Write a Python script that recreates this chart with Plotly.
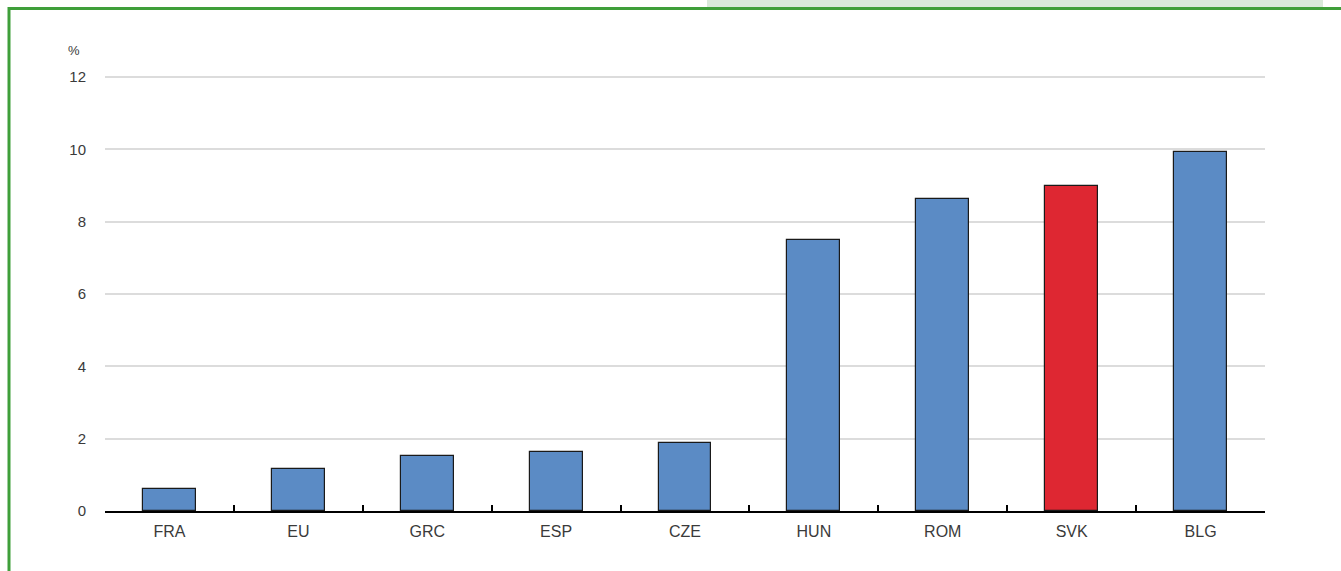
import plotly.graph_objects as go

categories = ["FRA", "EU", "GRC", "ESP", "CZE", "HUN", "ROM", "SVK", "BLG"]
values = [0.6, 1.15, 1.52, 1.62, 1.88, 7.5, 8.63, 9.0, 9.93]
highlight = "SVK"
y_ticks = [0, 2, 4, 6, 8, 10, 12]

BLUE = "#5b8bc5"
RED = "#de2732"
colors = [RED if c == highlight else BLUE for c in categories]

W, H = 1341, 571
L, R, T, B = 105, 76, 76, 60
pw, ph = W - L - R, H - T - B


def px(x):
    return (x - L) / pw


def py(y):
    return (H - B - y) / ph


fig = go.Figure(
    go.Bar(
        x=categories,
        y=values,
        marker=dict(color=colors, line=dict(color="#1a1a1a", width=1.2)),
        width=0.41,
    )
)

fig.update_layout(
    width=W,
    height=H,
    margin=dict(l=L, r=R, t=T, b=B, pad=0),
    paper_bgcolor="white",
    plot_bgcolor="white",
    showlegend=False,
    font=dict(family="Liberation Sans, Arial, sans-serif", color="#3a3a3a"),
    bargap=0,
)

fig.update_xaxes(
    type="category",
    tickson="boundaries",
    ticks="inside",
    ticklen=6,
    tickwidth=2,
    tickcolor="black",
    showline=True,
    linecolor="black",
    linewidth=2,
    showgrid=False,
    ticklabelstandoff=5,
    tickfont=dict(size=16, color="#3a3a3a"),
    range=[-0.5, len(categories) - 0.5],
)

fig.update_yaxes(
    range=[0, 12.03],
    tickvals=y_ticks,
    showgrid=True,
    gridcolor="#dcdcdc",
    gridwidth=2,
    zeroline=False,
    showline=False,
    ticks="",
    ticklabelstandoff=18,
    tickfont=dict(size=15, color="#3a3a3a"),
)

shapes = [
    # light green band at top right
    dict(type="rect", xref="paper", yref="paper",
         x0=px(707), x1=px(1323), y0=py(8), y1=py(0),
         fillcolor="#d9e9da", line=dict(width=0), layer="below"),
    # green frame
    dict(type="rect", xref="paper", yref="paper",
         x0=px(9), x1=px(1360), y0=py(600), y1=py(8.5),
         fillcolor="rgba(0,0,0,0)", line=dict(color="#3f9f3a", width=3)),
]
fig.update_layout(shapes=shapes)

fig.add_annotation(
    text="%", xref="paper", yref="paper",
    x=px(74), y=py(50), showarrow=False,
    font=dict(size=13, color="#3a3a3a"),
    xanchor="center", yanchor="middle",
)

fig.write_html(
    "out.html",
    config={"displayModeBar": False},
    post_script="document.body.style.margin='0';document.body.style.padding='0';",
)
